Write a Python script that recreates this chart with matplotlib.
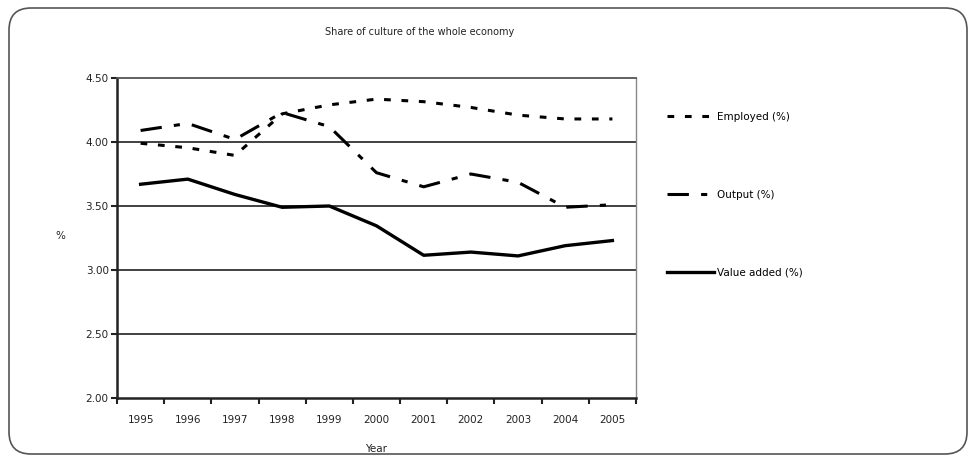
import matplotlib
matplotlib.use("Agg")
import matplotlib.pyplot as plt
from matplotlib.patches import FancyBboxPatch
import numpy as np

years = ["1995", "1996", "1997", "1998", "1999", "2000", "2001", "2002", "2003", "2004", "2005"]
employed = [3.99, 3.955, 3.895, 4.22, 4.29, 4.335, 4.315, 4.27, 4.21, 4.18, 4.18]
output = [4.09, 4.145, 4.02, 4.23, 4.12, 3.76, 3.65, 3.75, 3.685, 3.49, 3.51]
value_added = [3.67, 3.71, 3.59, 3.49, 3.50, 3.345, 3.115, 3.14, 3.11, 3.19, 3.23]
yticks = [2.00, 2.50, 3.00, 3.50, 4.00, 4.50]
labels = ["Employed (%)", "Output (%)", "Value added (%)"]

plt.rcParams['font.family'] = ['DejaVu Sans']
W, H = 976, 461
fig = plt.figure(figsize=(W / 100, H / 100), dpi=100)

# rounded outer border (pixel coordinates)
border = FancyBboxPatch((9, 7), 958, 446,
                        boxstyle="round,pad=0,rounding_size=22",
                        transform=None, fill=False,
                        edgecolor="#555555", linewidth=1.2)
fig.patches.append(border)

ax = fig.add_axes([117 / W, 1 - 398 / H, (636 - 117) / W, (398 - 78) / H])
x = np.arange(len(years))

ax.plot(x, employed, color="black", linewidth=2.2, linestyle=(0, (2.2, 3.5)), label=labels[0])
ax.plot(x, output, color="black", linewidth=2.2, linestyle=(0, (7, 4, 2, 4)), label=labels[1])
ax.plot(x, value_added, color="black", linewidth=2.4, linestyle="-", label=labels[2])

ax.set_xlim(-0.5, len(years) - 0.5)
ax.set_ylim(2.0, 4.5)
ax.set_yticks(yticks)
ax.set_yticklabels([f"{v:.2f}" for v in yticks], fontsize=7.5, color="#222222")
ax.set_xticks(x)
ax.set_xticklabels(years, fontsize=7.5, color="#222222")
ax.tick_params(axis="x", which="major", length=0, pad=12)
ax.set_xticks(np.arange(-0.5, len(years), 1.0), minor=True)
ax.tick_params(axis="x", which="minor", length=4, width=1.5, direction="out", color="#222222")
ax.tick_params(axis="y", length=4, width=1.5, direction="out", color="#222222", pad=2)

for v in yticks[1:-1]:
    ax.axhline(v, color="#333333", linewidth=1.3, zorder=0)

ax.spines["left"].set_linewidth(1.8)
ax.spines["left"].set_color("#222222")
ax.spines["bottom"].set_linewidth(1.8)
ax.spines["bottom"].set_color("#222222")
ax.spines["top"].set_linewidth(1.3)
ax.spines["top"].set_color("#555555")
ax.spines["right"].set_linewidth(1.0)
ax.spines["right"].set_color("#888888")

ax.set_xlabel("Year", fontsize=7.5, labelpad=14, color="#222222")
ax.set_ylabel("%", fontsize=7.5, rotation=0, labelpad=18, color="#222222")
ax.yaxis.set_label_coords(-0.11, 0.49)

fig.text(420 / W, 1 - 32 / H, "Share of culture of the whole economy",
         ha="center", va="center", fontsize=7, color="#222222")

leg = ax.legend(loc="upper left", bbox_to_anchor=(1.05, 0.91), frameon=False,
                fontsize=7.5, handlelength=4.5, handletextpad=0.25,
                labelspacing=6.5, borderpad=0)

fig.savefig("out.png", dpi=100)
